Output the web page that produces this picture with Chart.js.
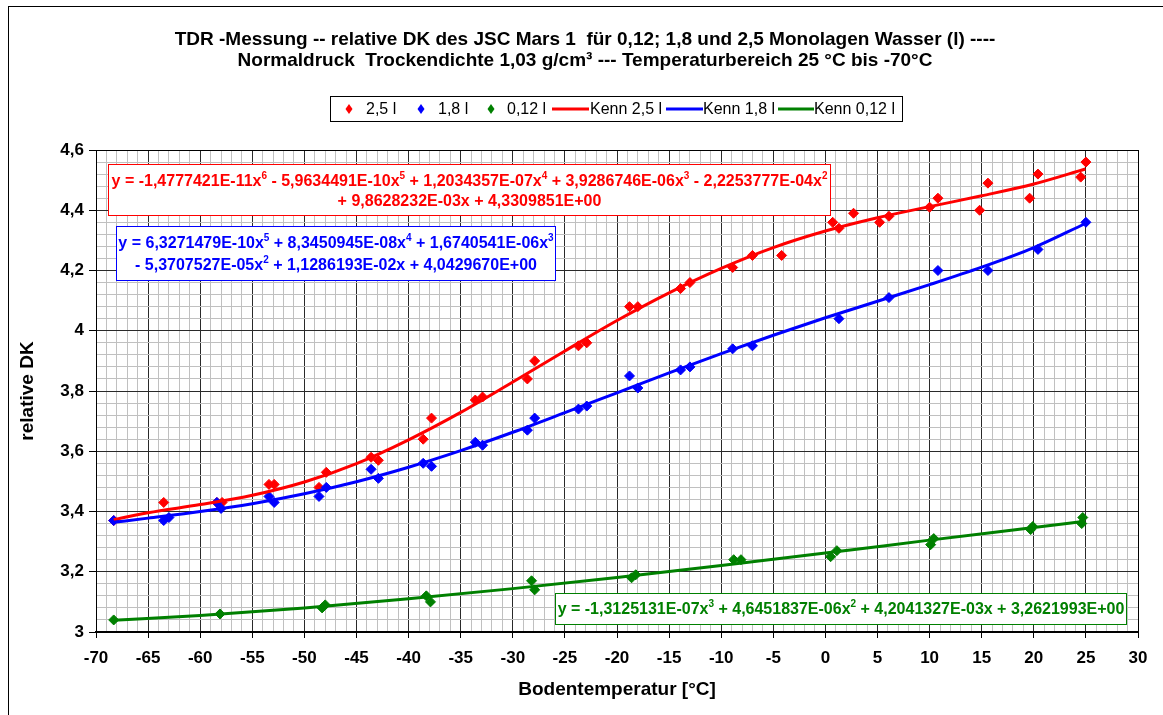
<!DOCTYPE html>
<html>
<head>
<meta charset="utf-8">
<script src="https://cdn.jsdelivr.net/npm/chart.js@4.4.1/dist/chart.umd.min.js"></script>
<style>
  html, body { margin: 0; padding: 0; background: #fff; }
  canvas { display: block; }
</style>
</head>
<body>
<canvas id="chart" width="1163" height="715"></canvas>
<script>
// measured points, 2,5 monolayers
const t25 = [-68.3, -63.5, -58.4, -57.9, -53.4, -52.9, -48.6, -47.9, -43.6, -42.9, -38.6, -37.8, -33.6, -32.9, -28.6, -27.9, -23.7, -22.9, -18.8, -18.0, -13.9, -13.0, -8.9, -7.0, -4.2, 0.7, 1.3, 2.7, 5.2, 6.1, 10.0, 10.8, 14.8, 15.6, 19.6, 20.4, 24.5, 25.0];
const dk25 = [3.37, 3.43, 3.43, 3.43, 3.49, 3.49, 3.48, 3.53, 3.58, 3.57, 3.64, 3.71, 3.77, 3.78, 3.84, 3.90, 3.95, 3.96, 4.08, 4.08, 4.14, 4.16, 4.21, 4.25, 4.25, 4.36, 4.34, 4.39, 4.36, 4.38, 4.41, 4.44, 4.40, 4.49, 4.44, 4.52, 4.51, 4.56];

// 1,8 monolayers
const t18 = [-68.3, -63.5, -63.0, -58.4, -58.0, -53.4, -52.9, -48.6, -47.9, -43.6, -42.9, -38.6, -37.8, -33.6, -32.9, -28.6, -27.9, -23.7, -22.9, -18.8, -18.0, -13.9, -13.0, -8.9, -7.0, 1.3, 6.1, 10.8, 15.6, 20.4, 25.0];
const dk18 = [3.37, 3.37, 3.38, 3.43, 3.41, 3.45, 3.43, 3.45, 3.48, 3.54, 3.51, 3.56, 3.55, 3.63, 3.62, 3.67, 3.71, 3.74, 3.75, 3.85, 3.81, 3.87, 3.88, 3.94, 3.95, 4.04, 4.11, 4.20, 4.20, 4.27, 4.36];

// 0,12 monolayers
const t012 = [-68.3, -58.1, -48.3, -48.0, -38.3, -37.9, -28.2, -27.9, -18.6, -18.2, -8.8, -8.1, 0.5, 1.1, 10.1, 10.4, 19.7, 19.9, 24.6, 24.7];
const dk012 = [3.04, 3.06, 3.08, 3.09, 3.12, 3.10, 3.17, 3.14, 3.18, 3.19, 3.24, 3.24, 3.25, 3.27, 3.29, 3.31, 3.34, 3.35, 3.36, 3.38];

// Kenn curves, read along the trendlines
const kennT = [-68.3, -65, -60, -55, -50, -45, -40, -35, -30, -25, -20, -15, -10, -5, 0, 5, 10, 15, 20, 24.95];
const kenn25 = [3.373, 3.396, 3.423, 3.454, 3.498, 3.559, 3.638, 3.729, 3.830, 3.933, 4.034, 4.126, 4.207, 4.276, 4.331, 4.375, 4.412, 4.448, 4.487, 4.537];
const kenn18 = [3.364, 3.378, 3.400, 3.426, 3.459, 3.499, 3.547, 3.602, 3.663, 3.728, 3.794, 3.860, 3.924, 3.985, 4.043, 4.098, 4.153, 4.211, 4.276, 4.356];
const kennT012 = [-68.3, -60, -50, -40, -30, -20, -10, 0, 10, 20, 24.7];
const kenn012 = [3.039, 3.055, 3.080, 3.110, 3.144, 3.181, 3.221, 3.262, 3.305, 3.347, 3.367];

const titleLines = [
  "TDR -Messung -- relative DK des JSC Mars 1  für 0,12; 1,8 und 2,5 Monolagen Wasser (l) ----",
  "Normaldruck  Trockendichte 1,03 g/cm³ --- Temperaturbereich 25 °C bis -70°C"
];
const seriesNames = ["2,5 l", "1,8 l", "0,12 l", "Kenn 2,5 l", "Kenn 1,8 l", "Kenn 0,12 l"];
const eq25 = ["y = -1,4777421E-11x^6 - 5,9634491E-10x^5 + 1,2034357E-07x^4 + 3,9286746E-06x^3 - 2,2253777E-04x^2",
              "+ 9,8628232E-03x + 4,3309851E+00"];
const eq18 = ["y = 6,3271479E-10x^5 + 8,3450945E-08x^4 + 1,6740541E-06x^3",
              "- 5,3707527E-05x^2 + 1,1286193E-02x + 4,0429670E+00"];
const eq012 = ["y = -1,3125131E-07x^3 + 4,6451837E-06x^2 + 4,2041327E-03x + 3,2621993E+00"];

const RED = "#ff0000";
const BLUE = "#0000ff";
const GREEN = "#008000";
const FONT = 'Arial, "Liberation Sans", sans-serif';

Chart.defaults.font.family = FONT;

const pts = (xs, ys) => xs.map((x, i) => ({ x: x, y: ys[i] }));

const isMajorX = (v) => Math.round(v) % 5 === 0;
const isMajorY = (v) => Math.round(v * 100) % 20 === 0;

function drawEq(ctx, text, cx, y, color) {
  const parts = text.split(/\^(\d)/);
  const big = "bold 16px " + FONT;
  const small = "bold 10px " + FONT;
  let w = 0;
  parts.forEach((p, i) => {
    ctx.font = i % 2 ? small : big;
    w += ctx.measureText(p).width;
  });
  let x = cx - w / 2;
  ctx.fillStyle = color;
  ctx.textAlign = "left";
  ctx.textBaseline = "middle";
  parts.forEach((p, i) => {
    ctx.font = i % 2 ? small : big;
    ctx.fillText(p, x, i % 2 ? y - 6 : y);
    x += ctx.measureText(p).width;
  });
}

function eqBox(ctx, lines, box, lineYs, color) {
  ctx.fillStyle = "#fff";
  ctx.fillRect(box[0], box[1], box[2], box[3]);
  ctx.strokeStyle = color;
  ctx.lineWidth = 1;
  ctx.strokeRect(box[0], box[1], box[2], box[3]);
  const cx = box[0] + box[2] / 2;
  lines.forEach((l, i) => drawEq(ctx, l, cx, lineYs[i], color));
}

const decor = {
  id: "decor",
  beforeDraw(chart) {
    const ctx = chart.ctx;
    ctx.save();
    ctx.fillStyle = "#fff";
    ctx.fillRect(0, 0, chart.width, chart.height);
    ctx.strokeStyle = "#000";
    ctx.lineWidth = 1;
    ctx.strokeRect(8.5, 6.5, chart.width, chart.height);
    ctx.restore();
  },
  afterDraw(chart) {
    const ctx = chart.ctx;
    const a = chart.chartArea;
    ctx.save();

    // plot frame
    ctx.strokeStyle = "#000";
    ctx.lineWidth = 1;
    ctx.strokeRect(Math.round(a.left) + 0.5, Math.round(a.top) + 0.5,
      Math.round(a.right - a.left), Math.round(a.bottom - a.top));

    // title
    ctx.fillStyle = "#000";
    ctx.font = "bold 19px " + FONT;
    ctx.textAlign = "center";
    ctx.textBaseline = "middle";
    ctx.fillText(titleLines[0], 585, 40);
    ctx.fillText(titleLines[1], 585, 61);

    // legend
    ctx.strokeStyle = "#000";
    ctx.fillStyle = "#fff";
    ctx.fillRect(330.5, 96.5, 572, 25);
    ctx.strokeRect(330.5, 96.5, 572, 25);
    const ly = 109;
    const items = [
      { kind: "pt", c: RED, m: 349, tx: 366 },
      { kind: "pt", c: BLUE, m: 421, tx: 438 },
      { kind: "pt", c: GREEN, m: 491, tx: 507 },
      { kind: "ln", c: RED, m: [552, 589], tx: 590 },
      { kind: "ln", c: BLUE, m: [666, 703], tx: 703 },
      { kind: "ln", c: GREEN, m: [778, 814], tx: 814 }
    ];
    items.forEach((it, i) => {
      ctx.fillStyle = it.c;
      ctx.strokeStyle = it.c;
      if (it.kind === "pt") {
        ctx.beginPath();
        ctx.moveTo(it.m, ly - 5);
        ctx.lineTo(it.m + 3.5, ly);
        ctx.lineTo(it.m, ly + 5);
        ctx.lineTo(it.m - 3.5, ly);
        ctx.closePath();
        ctx.fill();
      } else {
        ctx.lineWidth = 3;
        ctx.beginPath();
        ctx.moveTo(it.m[0], ly);
        ctx.lineTo(it.m[1], ly);
        ctx.stroke();
      }
      ctx.fillStyle = "#000";
      ctx.font = "16px " + FONT;
      ctx.textAlign = "left";
      ctx.fillText(seriesNames[i], it.tx, ly + 1);
    });

    // trendline equations
    eqBox(ctx, eq25, [108.5, 164.5, 722, 51], [182, 202], RED);
    eqBox(ctx, eq18, [116.5, 226.5, 439, 54], [244, 266], BLUE);
    eqBox(ctx, eq012, [555.5, 593.5, 571, 31], [610], GREEN);

    ctx.restore();
  }
};

const scatterSet = (label, data, color, order) => ({
  label: label,
  data: data,
  showLine: false,
  pointStyle: "rectRot",
  pointRadius: 5,
  pointBackgroundColor: color,
  pointBorderColor: color,
  pointBorderWidth: 1,
  order: order
});

const lineSet = (label, data, color, order) => ({
  label: label,
  data: data,
  showLine: true,
  borderColor: color,
  borderWidth: 3,
  pointRadius: 0,
  cubicInterpolationMode: "monotone",
  fill: false,
  order: order
});

new Chart(document.getElementById("chart"), {
  type: "scatter",
  data: {
    datasets: [
      scatterSet(seriesNames[0], pts(t25, dk25), RED, 6),
      scatterSet(seriesNames[1], pts(t18, dk18), BLUE, 5),
      scatterSet(seriesNames[2], pts(t012, dk012), GREEN, 4),
      lineSet(seriesNames[3], pts(kennT, kenn25), RED, 3),
      lineSet(seriesNames[4], pts(kennT, kenn18), BLUE, 2),
      lineSet(seriesNames[5], pts(kennT012, kenn012), GREEN, 1)
    ]
  },
  options: {
    responsive: false,
    animation: false,
    devicePixelRatio: 1,
    layout: { padding: { left: 0, right: 25, top: 150, bottom: 0 } },
    plugins: {
      legend: { display: false },
      title: { display: false },
      tooltip: { enabled: false }
    },
    scales: {
      x: {
        type: "linear",
        min: -70,
        max: 30,
        afterFit: (s) => { s.height = 83; },
        ticks: {
          stepSize: 1,
          autoSkip: false,
          maxRotation: 0,
          color: "#000",
          padding: 10,
          font: { size: 17, weight: "bold" },
          callback: (v) => isMajorX(v) ? String(Math.round(v)) : ""
        },
        grid: {
          color: (c) => isMajorX(c.tick.value) ? "#2a2a2a" : "#c0c0c0",
          lineWidth: 1,
          tickLength: 6,
          tickColor: (c) => isMajorX(c.tick.value) ? "#000" : "rgba(0,0,0,0)"
        },
        border: { color: "#000", width: 2 },
        title: {
          display: true,
          text: "Bodentemperatur [°C]",
          color: "#000",
          font: { size: 19, weight: "bold" },
          padding: { top: 0, bottom: 14 }
        }
      },
      y: {
        min: 3,
        max: 4.6,
        afterFit: (s) => { s.width = 96; },
        ticks: {
          stepSize: 0.04,
          autoSkip: false,
          color: "#000",
          padding: 5,
          font: { size: 17, weight: "bold" },
          callback: (v) => isMajorY(v) ? String(Math.round(v * 10) / 10).replace(".", ",") : ""
        },
        grid: {
          color: (c) => isMajorY(c.tick.value) ? "#2a2a2a" : "#c0c0c0",
          lineWidth: 1,
          tickLength: 7,
          tickColor: (c) => isMajorY(c.tick.value) ? "#000" : "rgba(0,0,0,0)"
        },
        border: { color: "#000", width: 1 },
        title: {
          display: true,
          text: "relative DK",
          color: "#000",
          font: { size: 19, weight: "bold" },
          padding: { top: 16, bottom: 0 }
        }
      }
    }
  },
  plugins: [decor]
});
</script>
</body>
</html>
